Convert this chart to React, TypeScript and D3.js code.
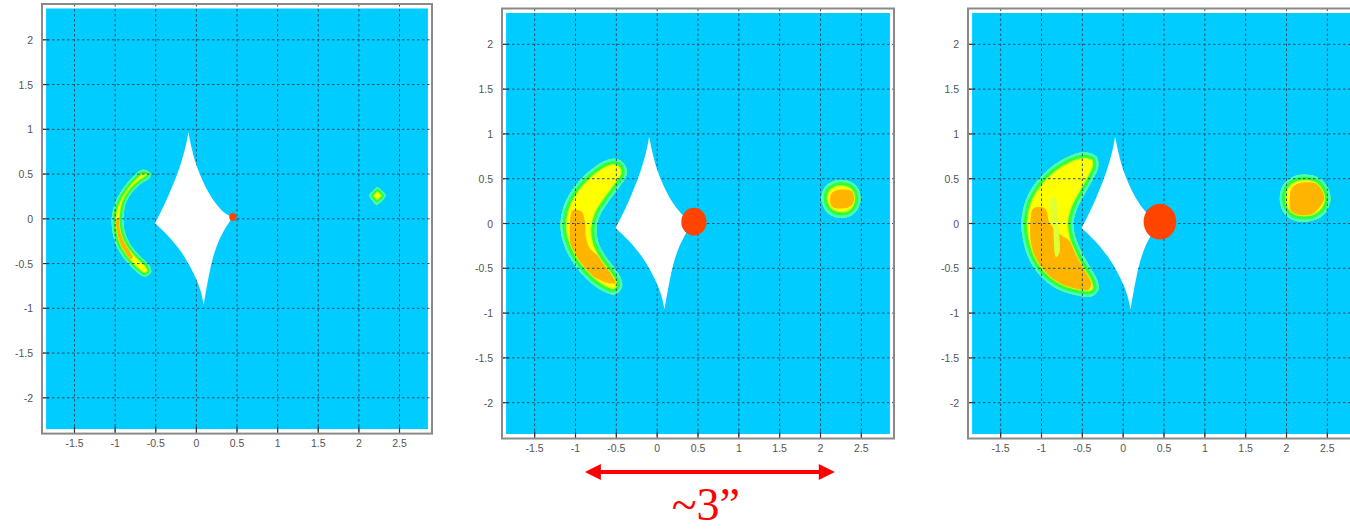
import React from "react";
import * as d3 from "d3";

type Pt = [number, number];

// ---------- axes ----------
const xFrame: Pt = [-1.9, 2.9];
const yFrame: Pt = [-2.4, 2.4];
const xFill: Pt = [-1.85, 2.85];
const yFill: Pt = [-2.35, 2.35];
const xTicks = [-1.5, -1, -0.5, 0, 0.5, 1, 1.5, 2, 2.5];
const yTicks = [-2, -1.5, -1, -0.5, 0, 0.5, 1, 1.5, 2];
const xTickLabels = ["-1.5", "-1", "-0.5", "0", "0.5", "1", "1.5", "2", "2.5"];
const yTickLabels = ["-2", "-1.5", "-1", "-0.5", "0", "0.5", "1", "1.5", "2"];

// ---------- source ----------
const sourceCenter: Pt = [0.45, 0.02];
const sourceRadii = [0.045, 0.155, 0.2];

// ---------- caustic (four edges between cusps) ----------
const causticUpperLeft: Pt[] = [[-0.509, -0.05], [-0.425, 0.1], [-0.32, 0.31], [-0.205, 0.58], [-0.135, 0.8], [-0.098, 0.968]];
const causticUpperRight: Pt[] = [[-0.098, 0.968], [-0.06, 0.8], [0.0, 0.6], [0.09, 0.4], [0.2, 0.22], [0.33, 0.08], [0.447, 0.017]];
const causticLowerRight: Pt[] = [[0.447, 0.017], [0.36, -0.1], [0.27, -0.26], [0.2, -0.45], [0.14, -0.7], [0.09, -0.96]];
const causticLowerLeft: Pt[] = [[0.09, -0.96], [0.05, -0.8], [-0.04, -0.6], [-0.18, -0.38], [-0.35, -0.19], [-0.509, -0.05]];

// ---------- panel 1 images ----------
const arcOuterA: Pt[] = [[-0.661, 0.547], [-0.566, 0.509], [-0.578, 0.457], [-0.661, 0.408], [-0.775, 0.315], [-0.865, 0.185], [-0.898, 0.017], [-0.886, -0.132], [-0.816, -0.281], [-0.702, -0.412], [-0.587, -0.512], [-0.558, -0.598], [-0.64, -0.647], [-0.742, -0.587], [-0.865, -0.468], [-0.975, -0.319], [-1.03, -0.151], [-1.04, 0.017], [-0.995, 0.185], [-0.89, 0.352], [-0.763, 0.483]];
const arcOrangeA: Pt[] = [[-0.988, 0.0], [-0.927, 0.0], [-0.906, -0.207], [-0.824, -0.356], [-0.783, -0.431], [-0.824, -0.449], [-0.906, -0.337], [-0.981, -0.207]];
const arcStreakA: Pt[] = [];
const blobOuterA: Pt[] = [[2.13, 0.26], [2.18, 0.32], [2.23, 0.35], [2.29, 0.31], [2.33, 0.26], [2.28, 0.2], [2.22, 0.16], [2.17, 0.2]];
const blobOrangeA: Pt[] = [];

// ---------- panel 2 images ----------
const arcOuterB: Pt[] = [[-0.477, 0.715], [-0.383, 0.632], [-0.383, 0.521], [-0.477, 0.391], [-0.6, 0.241], [-0.701, 0.093], [-0.742, -0.056], [-0.722, -0.206], [-0.64, -0.354], [-0.518, -0.503], [-0.436, -0.634], [-0.436, -0.726], [-0.518, -0.79], [-0.64, -0.764], [-0.824, -0.652], [-1.007, -0.466], [-1.13, -0.261], [-1.182, -0.056], [-1.158, 0.149], [-1.068, 0.335], [-0.925, 0.503], [-0.763, 0.632], [-0.619, 0.707]];
const arcOrangeB: Pt[] = [[-1.036, 0.149], [-0.925, 0.13], [-0.885, 0.018], [-0.873, -0.15], [-0.824, -0.279], [-0.701, -0.373], [-0.558, -0.466], [-0.477, -0.559], [-0.477, -0.652], [-0.579, -0.67], [-0.742, -0.615], [-0.906, -0.522], [-1.02, -0.391], [-1.068, -0.206], [-1.068, 0.0]];
const arcStreakB: Pt[] = [];
const blobOuterB: Pt[] = [[2.012, 0.279], [2.053, 0.405], [2.154, 0.47], [2.257, 0.485], [2.379, 0.46], [2.46, 0.39], [2.49, 0.279], [2.46, 0.17], [2.379, 0.09], [2.257, 0.065], [2.135, 0.09], [2.053, 0.16]];
const blobOrangeB: Pt[] = [[2.122, 0.316], [2.175, 0.364], [2.379, 0.364], [2.42, 0.297], [2.399, 0.223], [2.338, 0.179], [2.154, 0.179], [2.122, 0.223]];

// ---------- panel 3 images ----------
const arcOuterC: Pt[] = [[-0.428, 0.789], [-0.326, 0.744], [-0.306, 0.632], [-0.367, 0.503], [-0.469, 0.335], [-0.565, 0.168], [-0.61, 0.0], [-0.585, -0.15], [-0.509, -0.317], [-0.408, -0.485], [-0.318, -0.634], [-0.306, -0.745], [-0.387, -0.812], [-0.57, -0.801], [-0.815, -0.726], [-1.02, -0.578], [-1.163, -0.373], [-1.231, -0.15], [-1.244, 0.037], [-1.191, 0.26], [-1.06, 0.465], [-0.876, 0.632], [-0.673, 0.744], [-0.53, 0.789]];
const arcOrangeC: Pt[] = [[-1.101, 0.168], [-0.958, 0.168], [-0.897, 0.0], [-0.76, -0.131], [-0.66, -0.19], [-0.58, -0.335], [-0.46, -0.53], [-0.39, -0.67], [-0.428, -0.745], [-0.591, -0.745], [-0.815, -0.67], [-0.979, -0.541], [-1.081, -0.373], [-1.134, -0.187], [-1.134, 0.037]];
const arcStreakC: Pt[] = [[-0.889, 0.279], [-0.836, 0.29], [-0.795, 0.0], [-0.783, -0.335], [-0.824, -0.373], [-0.857, -0.037]];
const blobOuterC: Pt[] = [[1.918, 0.279], [1.958, 0.428], [2.081, 0.521], [2.245, 0.545], [2.408, 0.503], [2.509, 0.391], [2.538, 0.279], [2.497, 0.149], [2.387, 0.056], [2.224, 0.02], [2.061, 0.048], [1.951, 0.149]];
const blobOrangeC: Pt[] = [[2.04, 0.279], [2.061, 0.391], [2.142, 0.447], [2.367, 0.447], [2.448, 0.391], [2.469, 0.297], [2.408, 0.185], [2.306, 0.1], [2.122, 0.093], [2.049, 0.149]];

// ---------- annotation ----------
const arrowSpan: Pt = [-0.885, 2.175];
const arrowLabel = "~3\u201D";

const COLORS = {
  bg: "#00CCFF",
  aqua: "#44FFC8",
  green: "#33FF33",
  yg: "#BBFF22",
  streak: "#DDFF33",
  yellow: "#FFFF00",
  orange: "#FFB400",
  red: "#FF4400",
  grid: "#23506a",
};

const panelData = [
  { arcOuter: arcOuterA, arcOrange: arcOrangeA, arcStreak: arcStreakA, blobOuter: blobOuterA, blobOrange: blobOrangeA, r: sourceRadii[0] },
  { arcOuter: arcOuterB, arcOrange: arcOrangeB, arcStreak: arcStreakB, blobOuter: blobOuterB, blobOrange: blobOrangeB, r: sourceRadii[1] },
  { arcOuter: arcOuterC, arcOrange: arcOrangeC, arcStreak: arcStreakC, blobOuter: blobOuterC, blobOrange: blobOrangeC, r: sourceRadii[2] },
];

const layouts = [
  { left: 42, top: 4, width: 390, height: 429.6, rims: [1.4, 2.2, 0.8] },
  { left: 502, top: 8.5, width: 392, height: 430, rims: [2.2, 3, 1.2] },
  { left: 968, top: 8.5, width: 392, height: 430, rims: [2.2, 3, 1.2] },
];

type Scale = d3.ScaleLinear<number, number>;

function closedPath(pts: Pt[], x: Scale, y: Scale): string {
  return (
    d3
      .line<Pt>()
      .x((p) => x(p[0]))
      .y((p) => y(p[1]))
      .curve(d3.curveCatmullRomClosed.alpha(0.5))(pts) || ""
  );
}

function causticPath(x: Scale, y: Scale): string {
  const open = d3
    .line<Pt>()
    .x((p) => x(p[0]))
    .y((p) => y(p[1]))
    .curve(d3.curveCatmullRom.alpha(0.5));
  const edges = [causticUpperLeft, causticUpperRight, causticLowerRight, causticLowerLeft];
  return (
    edges
      .map((e, i) => {
        const s = open(e) || "";
        return i === 0 ? s : "L" + s.slice(1);
      })
      .join("") + "Z"
  );
}

function LensImage({ id, outer, orange, streak, x, y, rims }: any) {
  const d = closedPath(outer, x, y);
  const [a, g, yg] = rims;
  return (
    <g>
      <clipPath id={id}>
        <path d={d} />
      </clipPath>
      <path d={d} fill={COLORS.yellow} />
      {orange.length > 0 && <path d={closedPath(orange, x, y)} fill={COLORS.orange} />}
      {streak.length > 0 && <path d={closedPath(streak, x, y)} fill={COLORS.streak} />}
      <g clipPath={`url(#${id})`}>
        <path d={d} fill="none" stroke={COLORS.yg} strokeWidth={2 * (a + g + yg)} strokeLinejoin="round" />
        <path d={d} fill="none" stroke={COLORS.green} strokeWidth={2 * (a + g)} strokeLinejoin="round" />
        <path d={d} fill="none" stroke={COLORS.aqua} strokeWidth={2 * a} strokeLinejoin="round" />
      </g>
    </g>
  );
}

function Panel({ i }: { i: number }) {
  const L = layouts[i];
  const D = panelData[i];
  const x = d3.scaleLinear().domain(xFrame).range([L.left, L.left + L.width]);
  const y = d3.scaleLinear().domain(yFrame).range([L.top + L.height, L.top]);
  const x0 = x(xFrame[0]);
  const x1 = x(xFrame[1]);
  const y0 = y(yFrame[0]);
  const y1 = y(yFrame[1]);
  const fontFamily = "'Liberation Sans', Arial, sans-serif";
  return (
    <g>
      <rect
        x={x(xFill[0])}
        y={y(yFill[1])}
        width={x(xFill[1]) - x(xFill[0])}
        height={y(yFill[0]) - y(yFill[1])}
        fill={COLORS.bg}
      />
      <LensImage id={`arc${i}`} outer={D.arcOuter} orange={D.arcOrange} streak={D.arcStreak} x={x} y={y} rims={L.rims} />
      <LensImage id={`blob${i}`} outer={D.blobOuter} orange={D.blobOrange} streak={[]} x={x} y={y} rims={L.rims} />
      {xTicks.map((t) => (
        <line key={"gx" + t} x1={x(t)} x2={x(t)} y1={y1} y2={y0} stroke={COLORS.grid} strokeWidth={1} strokeDasharray="2.5 2.5" />
      ))}
      {yTicks.map((t) => (
        <line key={"gy" + t} x1={x0} x2={x1} y1={y(t)} y2={y(t)} stroke={COLORS.grid} strokeWidth={1} strokeDasharray="2.5 2.5" />
      ))}
      <path d={causticPath(x, y)} fill="#FFFFFF" />
      <ellipse
        cx={x(sourceCenter[0])}
        cy={y(sourceCenter[1])}
        rx={x(sourceCenter[0] + D.r) - x(sourceCenter[0])}
        ry={y(sourceCenter[1]) - y(sourceCenter[1] + D.r)}
        fill={COLORS.red}
      />
      {xTicks.map((t) => (
        <line key={"tx" + t} x1={x(t)} x2={x(t)} y1={y0} y2={y0 - 7} stroke="#333" strokeWidth={1.2} />
      ))}
      {yTicks.map((t) => (
        <line key={"ty" + t} x1={x0} x2={x0 + 7} y1={y(t)} y2={y(t)} stroke="#333" strokeWidth={1.2} />
      ))}
      <rect x={x0} y={y1} width={x1 - x0} height={y0 - y1} fill="none" stroke="#8a8a8a" strokeWidth={2} />
      {xTicks.map((t, k) => (
        <text key={"lx" + t} x={x(t)} y={y0 + 13} textAnchor="middle" fontSize={10.5} fill="#555" fontFamily={fontFamily}>
          {xTickLabels[k]}
        </text>
      ))}
      {yTicks.map((t, k) => (
        <text key={"ly" + t} x={x0 - 9} y={y(t) + 4} textAnchor="end" fontSize={10.5} fill="#555" fontFamily={fontFamily}>
          {yTickLabels[k]}
        </text>
      ))}
    </g>
  );
}

export default function App() {
  const L = layouts[1];
  const xB = d3.scaleLinear().domain(xFrame).range([L.left, L.left + L.width]);
  const ax1 = xB(arrowSpan[0]);
  const ax2 = xB(arrowSpan[1]);
  const ay = 472;
  const head = 16;
  const half = 8;
  return (
    <svg width={1350} height={530} style={{ position: "absolute", left: 0, top: 0, display: "block", background: "#fff" }}>
      {[0, 1, 2].map((i) => (
        <Panel key={i} i={i} />
      ))}
      <line x1={ax1 + head - 2} x2={ax2 - head + 2} y1={ay} y2={ay} stroke="#FF0000" strokeWidth={4} />
      <polygon points={`${ax1},${ay} ${ax1 + head},${ay - half} ${ax1 + head},${ay + half}`} fill="#FF0000" />
      <polygon points={`${ax2},${ay} ${ax2 - head},${ay - half} ${ax2 - head},${ay + half}`} fill="#FF0000" />
      <text
        x={(ax1 + ax2) / 2 - 4}
        y={520}
        textAnchor="middle"
        fontSize={46}
        fill="#FF0000"
        fontFamily="'Liberation Serif', 'Times New Roman', serif"
      >
        {arrowLabel}
      </text>
    </svg>
  );
}
